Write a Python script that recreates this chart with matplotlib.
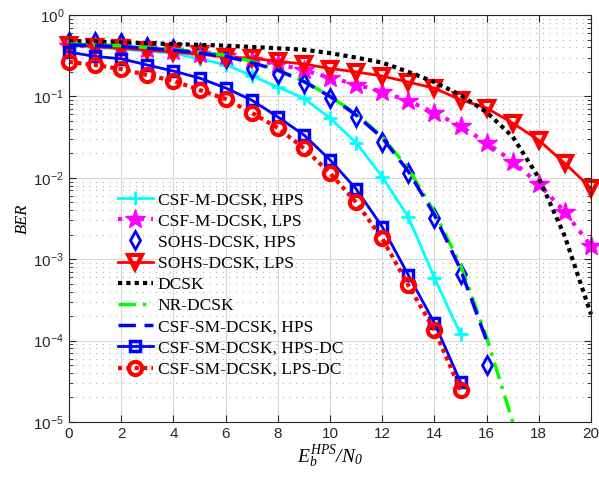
import numpy as np
import matplotlib
matplotlib.use("Agg")
import matplotlib.pyplot as plt
from matplotlib.ticker import LogLocator, NullFormatter, FixedLocator

# ---------------- data ----------------
x15 = [0, 1, 2, 3, 4, 5, 6, 7, 8, 9, 10, 11, 12, 13, 14, 15]
x16 = [0, 1, 2, 3, 4, 5, 6, 7, 8, 9, 10, 11, 12, 13, 14, 15, 16]
x17 = [0, 1, 2, 3, 4, 5, 6, 7, 8, 9, 10, 11, 12, 13, 14, 15, 16, 17]
x20 = [0, 1, 2, 3, 4, 5, 6, 7, 8, 9, 10, 11, 12, 13, 14, 15, 16, 17, 18, 19, 20]

csf_m_hps = [0.42, 0.40, 0.38, 0.36, 0.34, 0.29, 0.245, 0.18, 0.13, 0.095,
             0.054, 0.027, 0.0103, 0.0033, 0.00059, 0.00012]
csf_m_lps = [0.42, 0.41, 0.40, 0.38, 0.36, 0.33, 0.31, 0.28, 0.25, 0.21,
             0.17, 0.14, 0.114, 0.088, 0.063, 0.043, 0.027, 0.0158, 0.0084,
             0.0038, 0.00145]
sohs_hps = [0.47, 0.46, 0.45, 0.40, 0.38, 0.34, 0.30, 0.22, 0.19, 0.146,
            0.095, 0.056, 0.0275, 0.0115, 0.0032, 0.00066, 0.00005]
sohs_lps = [0.43, 0.41, 0.39, 0.37, 0.35, 0.33, 0.305, 0.295, 0.27, 0.25,
            0.22, 0.20, 0.178, 0.15, 0.126, 0.091, 0.072, 0.047, 0.029,
            0.015, 0.0075]
dcsk = [0.48, 0.47, 0.46, 0.45, 0.44, 0.43, 0.42, 0.405, 0.39, 0.375,
        0.34, 0.30, 0.26, 0.20, 0.15, 0.104, 0.064, 0.032, 0.0100,
        0.0019, 0.00021]
nr_dcsk = [0.44, 0.43, 0.42, 0.40, 0.38, 0.35, 0.32, 0.27, 0.21, 0.155,
           0.10, 0.061, 0.032, 0.013, 0.0038, 0.00085, 0.00011, 0.00001]
csf_sm_hps = [0.43, 0.42, 0.41, 0.39, 0.37, 0.34, 0.31, 0.26, 0.21, 0.152,
              0.10, 0.059, 0.031, 0.012, 0.0035, 0.00075, 0.0001]
csf_sm_hps_dc = [0.35, 0.31, 0.29, 0.243, 0.205, 0.168, 0.127, 0.090, 0.056,
                 0.0336, 0.0166, 0.0073, 0.0025, 0.00064, 0.000165, 0.000031]
csf_sm_lps_dc = [0.265, 0.243, 0.217, 0.183, 0.155, 0.12, 0.093, 0.063, 0.041,
                 0.023, 0.0114, 0.0050, 0.0018, 0.00048, 0.000135, 0.000025]

labels = ["CSF-M-DCSK, HPS", "CSF-M-DCSK, LPS", "SOHS-DCSK, HPS",
          "SOHS-DCSK, LPS", "DCSK", "NR-DCSK", "CSF-SM-DCSK, HPS",
          "CSF-SM-DCSK, HPS-DC", "CSF-SM-DCSK, LPS-DC"]
xticks = [0, 2, 4, 6, 8, 10, 12, 14, 16, 18, 20]

# ---------------- figure ----------------
plt.rcParams['font.family'] = ['Liberation Sans', 'DejaVu Sans']
plt.rcParams['mathtext.fontset'] = 'custom'
plt.rcParams['mathtext.rm'] = 'Liberation Serif:italic'
plt.rcParams['mathtext.it'] = 'Liberation Serif:italic'

fig = plt.figure(figsize=(5.99, 4.79), dpi=100)
ax = fig.add_axes([69/599, 1-422/479, 522/599, 407/479])

C = (0, 1, 1); M = (1, 0, 1); B = (0, 0, 1); R = (1, 0, 0); G = (0, 1, 0)

ax.plot(x15, csf_m_hps, color=C, ls='-', lw=2, marker='+', ms=10, mew=2,
        label=labels[0], clip_on=False)
ax.plot(x20, csf_m_lps, color=M, ls=':', lw=3, marker='*', ms=15,
        mfc=M, mec=M, label=labels[1], clip_on=False)
ax.plot(x16, sohs_hps, color=B, ls='none', marker='d', ms=9, mew=2,
        mfc='none', label=labels[2], clip_on=False)
ax.plot(x20, sohs_lps, color=R, ls='-', lw=2, marker='v', ms=10, mew=3,
        mfc='none', label=labels[3], clip_on=False)
ax.plot(x20, dcsk, color='k', ls=(0, (1, 1)), lw=3, label=labels[4],
        clip_on=False)
ax.plot(x17, nr_dcsk, color=G, ls=(0, (5, 2, 1, 2)), lw=2.5, label=labels[5],
        clip_on=False)
ax.plot(x16, csf_sm_hps, color=B, ls=(0, (5, 2.5)), lw=2.5, label=labels[6],
        clip_on=False)
ax.plot(x15, csf_sm_hps_dc, color=B, ls='-', lw=2, marker='s', ms=7.5, mew=2.5,
        mfc='none', label=labels[7], clip_on=False)
ax.plot(x15, csf_sm_lps_dc, color=R, ls=(0, (1, 1)), lw=3, marker='o', ms=9.5,
        mew=3, mfc='none', label=labels[8], clip_on=False)

ax.set_yscale('log')
ax.set_xlim(0, 20)
ax.set_ylim(1e-5, 1)
ax.xaxis.set_major_locator(FixedLocator(xticks))
ax.yaxis.set_major_locator(LogLocator(base=10, numticks=10))
ax.yaxis.set_minor_locator(LogLocator(base=10, subs=np.arange(2, 10), numticks=20))
ax.yaxis.set_minor_formatter(NullFormatter())

ax.grid(True, which='major', color=(0.85, 0.85, 0.85), lw=0.8, ls='-')
ax.grid(True, which='minor', axis='y', color=(0.7, 0.7, 0.7), lw=0.8, ls=(0, (1, 5)))
ax.set_axisbelow(True)

for s in ax.spines.values():
    s.set_color((0.15, 0.15, 0.15))
    s.set_linewidth(0.8)
ax.tick_params(which='both', direction='in', top=True, right=True,
               colors=(0.15, 0.15, 0.15), labelsize=11)
ax.tick_params(which='major', length=5)
ax.tick_params(which='minor', length=3)

ax.set_xlabel(r'$E_b^{HPS}/N_0$', fontsize=14, labelpad=2)
ax.set_ylabel('BER', fontsize=12, family='Liberation Serif', style='italic',
              labelpad=2)

leg = ax.legend(loc='upper left', bbox_to_anchor=((118-69)/522, (422-192)/407),
                frameon=False, borderpad=0, borderaxespad=0, handlelength=2.0,
                handletextpad=0.3, labelspacing=0.29,
                prop={'family': 'Liberation Serif', 'size': 12.5})

fig.savefig('out.png', dpi=100)
